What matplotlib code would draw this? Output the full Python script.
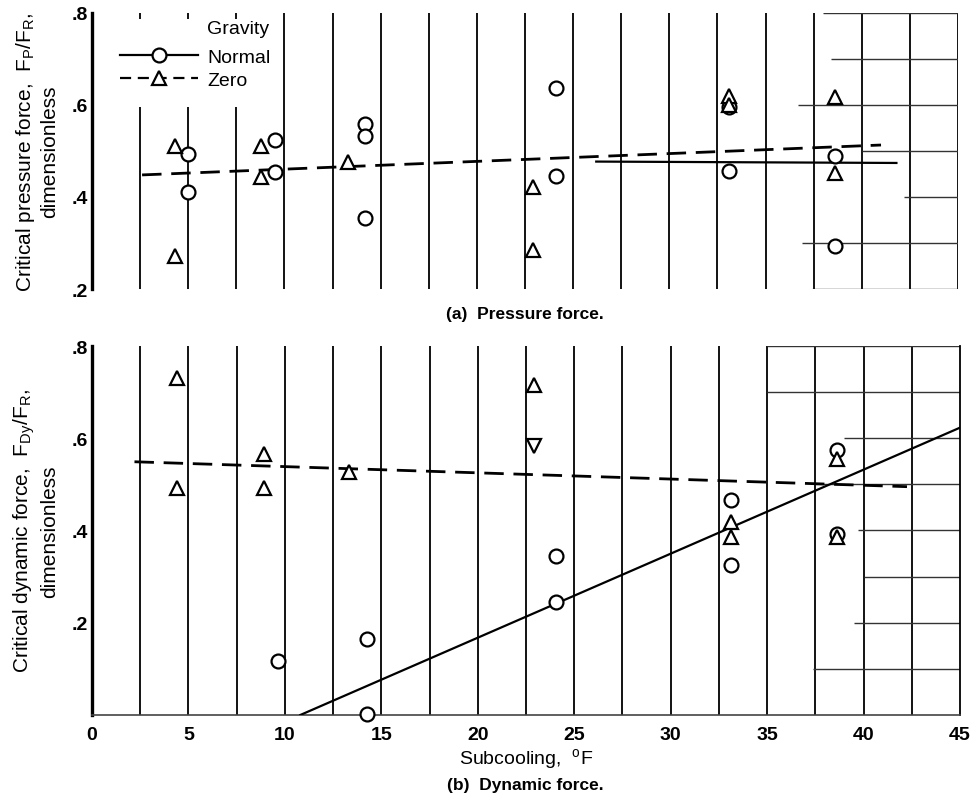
import numpy as np
import matplotlib
matplotlib.use("Agg")
import matplotlib.pyplot as plt
from matplotlib.lines import Line2D
from matplotlib.patches import Rectangle
from matplotlib.ticker import FuncFormatter

plt.rcParams['font.family'] = ['Liberation Sans', 'DejaVu Sans']
plt.rcParams['mathtext.default'] = 'regular'

# ---------------- data ----------------
# (a) Pressure force
p_normal_x = [5.0, 5.0, 9.5, 9.5, 14.2, 14.2, 14.2, 24.1, 24.1, 33.1, 33.1, 38.6, 38.6]
p_normal_y = [0.493, 0.411, 0.524, 0.454, 0.559, 0.533, 0.354, 0.637, 0.446, 0.595, 0.456, 0.489, 0.294]
p_zero_x = [4.3, 4.3, 8.8, 8.8, 13.3, 22.9, 22.9, 33.1, 33.1, 38.6, 38.6]
p_zero_y = [0.511, 0.272, 0.511, 0.443, 0.476, 0.422, 0.285, 0.620, 0.600, 0.617, 0.452]
p_zero_fit_x = [2.6, 41.0]
p_zero_fit_y = [0.448, 0.513]
p_normal_fit_x = [26.2, 41.8]
p_normal_fit_y = [0.477, 0.474]

# (b) Dynamic force
d_normal_x = [9.65, 14.25, 14.25, 24.05, 24.05, 33.1, 33.1, 38.6, 38.6]
d_normal_y = [0.117, 0.165, 0.002, 0.345, 0.245, 0.466, 0.325, 0.575, 0.393]
d_zero_x = [4.4, 4.4, 8.9, 8.9, 13.3, 22.9, 33.1, 33.1, 38.6, 38.6]
d_zero_y = [0.731, 0.492, 0.566, 0.492, 0.527, 0.716, 0.418, 0.386, 0.555, 0.386]
d_inv_x = [22.9]
d_inv_y = [0.583]
d_zero_fit_x = [2.2, 42.25]
d_zero_fit_y = [0.549, 0.495]
d_normal_fit_x = [10.8, 45.0]
d_normal_fit_y = [0.0, 0.623]

x_ticks = [0, 5, 10, 15, 20, 25, 30, 35, 40, 45]
y_ticks = [0.2, 0.4, 0.6, 0.8]

# ---------------- figure ----------------
fig = plt.figure(figsize=(9.72, 8.04), dpi=100)
ax1 = fig.add_axes([0.0947, 0.6393, 0.8909, 0.3433])
ax2 = fig.add_axes([0.0947, 0.1095, 0.8930, 0.4589])

grid_x = np.arange(2.5, 45.01, 2.5)
mk = dict(markersize=10, markeredgewidth=1.6, markerfacecolor='white',
          markeredgecolor='black', linestyle='none', zorder=4, clip_on=False)
dash = (7, 3.5)

def yfmt(v, pos):
    return ('%.1f' % v).lstrip('0')

# ---- panel (a)
ax1.set_xlim(0, 45)
ax1.set_ylim(0.2, 0.8)
ax1.vlines(grid_x, 0.2, 0.8, colors='black', lw=1.3, zorder=1)
p_h_y = [0.8, 0.7, 0.6, 0.5, 0.4, 0.3, 0.2]
p_h_start = [38.0, 38.4, 36.7, 40.0, 42.2, 36.9, 37.4]
ax1.hlines(p_h_y, p_h_start, 45, colors='#333333', lw=1.0, zorder=1)
ax1.plot(p_zero_fit_x, p_zero_fit_y, color='black', lw=2.0, dashes=dash, zorder=3)
ax1.plot(p_normal_fit_x, p_normal_fit_y, color='black', lw=1.6, zorder=3)
ax1.plot(p_normal_x, p_normal_y, marker='o', **mk)
ax1.plot(p_zero_x, p_zero_y, marker='^', **mk)
for s in ['top', 'right', 'bottom']:
    ax1.spines[s].set_visible(False)
ax1.spines['left'].set_linewidth(2.4)
ax1.set_xticks([])
ax1.set_yticks(y_ticks)
ax1.yaxis.set_major_formatter(FuncFormatter(yfmt))
ax1.tick_params(axis='y', length=0, pad=3, labelsize=14)
for t in ax1.get_yticklabels():
    t.set_fontweight('bold')
ax1.set_ylabel('Critical pressure force,  F$_P$/F$_R$,\ndimensionless',
               fontsize=15, labelpad=9, linespacing=1.2)

# legend area
ax1.add_patch(Rectangle((0.035, 0.66), 0.17, 0.32, transform=ax1.transAxes,
                        facecolor='white', edgecolor='none', zorder=2))
ax1.text(0.133, 0.942, 'Gravity', transform=ax1.transAxes, fontsize=14,
         ha='left', va='center', zorder=6)
handles = [Line2D([], [], color='black', lw=1.6, marker='o', markersize=10,
                  markeredgewidth=1.6, markerfacecolor='white'),
           Line2D([], [], color='black', lw=1.6, dashes=(5, 3), marker='^', markersize=10,
                  markeredgewidth=1.6, markerfacecolor='white')]
leg = ax1.legend(handles, ['Normal', 'Zero'], loc='upper left',
                 bbox_to_anchor=(0.028, 0.885), frameon=False, fontsize=14,
                 handlelength=4.0, handletextpad=0.5, labelspacing=0.25,
                 borderaxespad=0, borderpad=0.2)
leg.set_zorder(6)

# ---- panel (b)
ax2.set_xlim(0, 45)
ax2.set_ylim(0, 0.8)
ax2.vlines(grid_x[:-1], 0, 0.8, colors='black', lw=1.3, zorder=1)
d_h_y = [0.8, 0.7, 0.6, 0.5, 0.4, 0.3, 0.2, 0.1]
d_h_start = [35.0, 35.0, 39.0, 37.5, 39.7, 40.0, 39.5, 37.4]
ax2.hlines(d_h_y, d_h_start, 45, colors='#333333', lw=1.0, zorder=1)
ax2.plot(d_zero_fit_x, d_zero_fit_y, color='black', lw=2.0, dashes=dash, zorder=3)
ax2.plot(d_normal_fit_x, d_normal_fit_y, color='black', lw=1.6, zorder=3)
ax2.plot(d_normal_x, d_normal_y, marker='o', **mk)
ax2.plot(d_zero_x, d_zero_y, marker='^', **mk)
ax2.plot(d_inv_x, d_inv_y, marker='v', **mk)
ax2.spines['top'].set_visible(False)
ax2.spines['left'].set_linewidth(2.4)
ax2.spines['right'].set_linewidth(1.3)
ax2.spines['bottom'].set_linewidth(1.2)
ax2.spines['bottom'].set_color('#444444')
ax2.set_xticks(x_ticks)
ax2.set_yticks(y_ticks)
ax2.yaxis.set_major_formatter(FuncFormatter(yfmt))
ax2.tick_params(axis='y', length=0, pad=3, labelsize=14)
ax2.tick_params(axis='x', length=0, pad=8, labelsize=14)
for t in ax2.get_yticklabels() + ax2.get_xticklabels():
    t.set_fontweight('bold')
ax2.set_ylabel('Critical dynamic force,  F$_{Dy}$/F$_R$,\ndimensionless',
               fontsize=15, labelpad=9, linespacing=1.2)
ax2.set_xlabel('Subcooling,  $^o$F', fontsize=14, labelpad=2)

# captions
fig.text(0.54, 1 - 315 / 804, '(a)  Pressure force.', ha='center', va='center',
         fontsize=12.5, fontweight='bold')
fig.text(0.54, 1 - 786 / 804, '(b)  Dynamic force.', ha='center', va='center',
         fontsize=12.5, fontweight='bold')

fig.savefig('out.png', dpi=100)
